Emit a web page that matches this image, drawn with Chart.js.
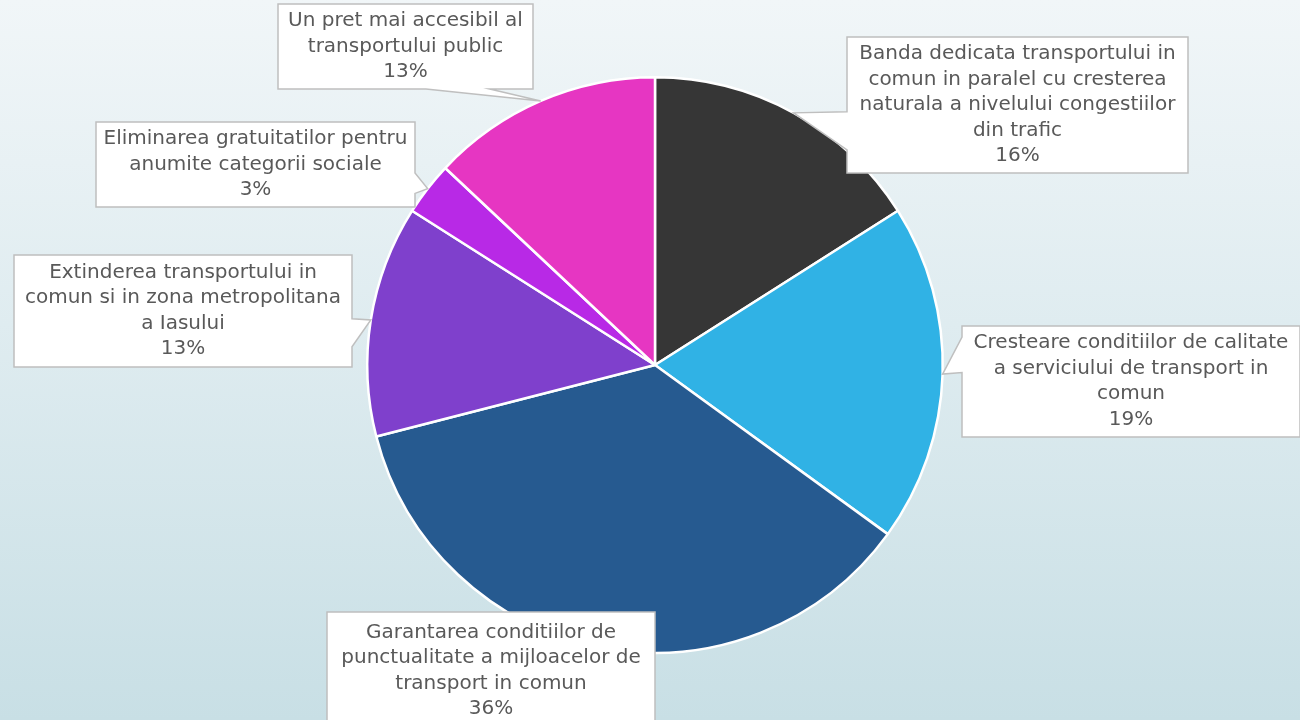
<!DOCTYPE html>
<html>
<head>
<meta charset="utf-8">
<script src="https://cdn.jsdelivr.net/npm/chart.js@4"></script>
<style>
  html, body { margin: 0; padding: 0; }
  body {
    width: 1300px; height: 720px; overflow: hidden;
    background: linear-gradient(to bottom, #f1f6f8 0%, #dfecf0 45%, #c8dfe5 100%);
  }
  #wrap { position: relative; width: 1300px; height: 720px; }
</style>
</head>
<body>
<div id="wrap"><canvas id="pieChart" width="1300" height="720"></canvas></div>
<script>
// Data
const categories = [
  ["Banda dedicata transportului in", "comun in paralel cu cresterea", "naturala a nivelului congestiilor", "din trafic"],
  ["Cresteare conditiilor de calitate", "a serviciului de transport in", "comun"],
  ["Garantarea conditiilor de", "punctualitate a mijloacelor de", "transport in comun"],
  ["Extinderea transportului in", "comun si in zona metropolitana", "a Iasului"],
  ["Eliminarea gratuitatilor pentru", "anumite categorii sociale"],
  ["Un pret mai accesibil al", "transportului public"]
]
const values = [16, 19, 36, 13, 3, 13]
const colors = ["#363636", "#30b2e5", "#265a90", "#7f40cc", "#b829e6", "#e636c2"]

// Callout boxes: x, y, w, h, pointer edge, pointer base (fraction of edge)
const callouts = [
  { x: 847, y: 37, w: 341, h: 136, edge: "left", base: [0.55, 0.83] },
  { x: 962, y: 326, w: 338, h: 111, edge: "left", base: [0.10, 0.42] },
  { x: 327, y: 612, w: 328, h: 118, edge: null, base: null },
  { x: 14, y: 255, w: 338, h: 112, edge: "right", base: [0.57, 0.82] },
  { x: 96, y: 122, w: 319, h: 85, edge: "right", base: [0.60, 0.84] },
  { x: 278, y: 4, w: 255, h: 85, edge: "bottom", base: [0.58, 0.83] }
]

const total = values.reduce((a, b) => a + b, 0)

const calloutPlugin = {
  id: "callouts",
  afterDatasetsDraw(chart) {
    const ctx = chart.ctx
    const arcs = chart.getDatasetMeta(0).data
    ctx.save()
    arcs.forEach((arc, i) => {
      const c = callouts[i]
      const p = arc.getProps(["x", "y", "startAngle", "endAngle", "outerRadius"], true)
      const a = (p.startAngle + p.endAngle) / 2
      const tx = p.x + Math.cos(a) * p.outerRadius
      const ty = p.y + Math.sin(a) * p.outerRadius

      // box outline with pointer
      const x0 = c.x, y0 = c.y, x1 = c.x + c.w, y1 = c.y + c.h
      ctx.beginPath()
      ctx.moveTo(x0, y0)
      ctx.lineTo(x1, y0)
      if (c.edge === "right") {
        ctx.lineTo(x1, y0 + c.h * c.base[0])
        ctx.lineTo(tx, ty)
        ctx.lineTo(x1, y0 + c.h * c.base[1])
      }
      ctx.lineTo(x1, y1)
      if (c.edge === "bottom") {
        ctx.lineTo(x0 + c.w * c.base[1], y1)
        ctx.lineTo(tx, ty)
        ctx.lineTo(x0 + c.w * c.base[0], y1)
      }
      ctx.lineTo(x0, y1)
      if (c.edge === "left") {
        ctx.lineTo(x0, y0 + c.h * c.base[1])
        ctx.lineTo(tx, ty)
        ctx.lineTo(x0, y0 + c.h * c.base[0])
      }
      ctx.closePath()
      ctx.fillStyle = "#ffffff"
      ctx.fill()
      ctx.lineWidth = 1.5
      ctx.strokeStyle = "#bfbfbf"
      ctx.stroke()

      // text
      const lines = categories[i].concat([Math.round(values[i] / total * 100) + "%"])
      const lh = 25.5
      ctx.font = "20px 'DejaVu Sans', sans-serif"
      ctx.fillStyle = "#595959"
      ctx.textAlign = "center"
      ctx.textBaseline = "middle"
      const cx = c.x + c.w / 2
      const startY = c.y + c.h / 2 - (lines.length - 1) * lh / 2
      lines.forEach((t, k) => ctx.fillText(t, cx, startY + k * lh))
    })
    ctx.restore()
  }
}

const pieChart = document.querySelector("#pieChart").getContext("2d")

const pie = new Chart(pieChart, {
  type: "pie",
  data: {
    labels: categories,
    datasets: [{
      data: values,
      backgroundColor: colors,
      borderColor: "#ffffff",
      borderWidth: 2.5
    }]
  },
  options: {
    responsive: false,
    animation: false,
    layout: {
      padding: { top: 76, bottom: 66, left: 300, right: 290 }
    },
    plugins: {
      legend: { display: false },
      tooltip: { enabled: false }
    }
  },
  plugins: [calloutPlugin]
})
</script>
</body>
</html>
